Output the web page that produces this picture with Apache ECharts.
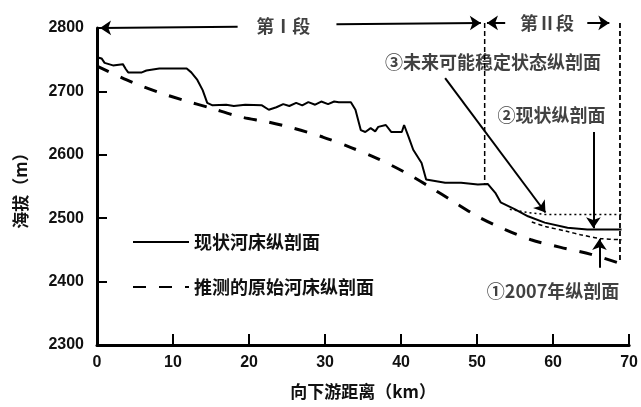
<!DOCTYPE html>
<html>
<head>
<meta charset="utf-8">
<script src="https://cdn.jsdelivr.net/npm/echarts@6/dist/echarts.min.js"></script>
<style>
html,body{margin:0;padding:0;background:#fff;}
#c{width:641px;height:407px;}
</style>
</head>
<body>
<div id="c"></div>
<script>
// ---- data (km, elevation m) ----
const currentProfile = [
  [0,2754],[0.6,2752],[1.0,2745],[2.1,2741],[3.4,2743],[3.8,2735],[4.1,2730],[5.9,2730],[6.5,2733],
  [8.2,2736],[11.8,2736],[12.4,2730],[13.2,2718],[13.9,2702],[14.5,2682],[15.2,2678],[17,2679],
  [18,2677],[19.5,2679],[21.7,2678],[22.6,2671],[23.6,2675],[24.5,2680],[25.3,2677],[26.2,2682],
  [27.0,2678],[27.8,2683],[28.7,2679],[29.5,2684],[30.4,2680],[31.2,2684],[31.8,2683],[33.4,2683],
  [34.0,2671],[34.7,2639],[35.3,2636],[36.0,2642],[36.6,2637],[37.0,2644],[38.0,2647],[38.7,2636],
  [40.1,2636],[40.4,2647],[41.0,2628],[41.6,2608],[42.7,2587],[43.3,2561],[45.8,2556],[47.9,2556],
  [50.1,2553],[51.4,2554],[52.4,2540],[53.1,2525],[55.0,2514],[56.7,2503],[58.9,2493],[61.9,2485],
  [64.5,2482],[69.0,2482]
];
const originalProfile = [
  [0,2740],[4.7,2714],[8,2699],[11.4,2686],[14.9,2674],[18.8,2660],[22.4,2652],[25.8,2642],
  [29.7,2628],[33.5,2611],[36.9,2594],[40.4,2573],[43.7,2550],[46.9,2526],[50.2,2502],[53.7,2482],
  [57.1,2466],[61,2454],[65,2443],[68.5,2430]
];
const futureStable = [[54.3,2514],[56.7,2509],[58.9,2506],[69.0,2506]];
const profile2007 = [[57.2,2494],[59,2487],[61.9,2479],[63.6,2474],[66.2,2468],[69.0,2466]];
const boundaryI_II = [[51,2808],[51,2554]];
const boundaryRight = [[68.8,2808],[68.8,2430]];

const seriesNames = ['现状河床纵剖面','推测的原始河床纵剖面'];
const xTicks = [0,10,20,30,40,50,60,70];
const yTicks = [2300,2400,2500,2600,2700,2800];
const axisNames = {x:'向下游距离（km）', y:'海拔（m）'};

// annotation texts placed in data coordinates
const annotations = [
  {text:'第Ⅰ段', at:[24.5,2803]},
  {text:'第Ⅱ段', at:[59.2,2807]},
  {text:'③未来可能稳定状态纵剖面', at:[52.1,2746]},
  {text:'②现状纵剖面', at:[59.8,2663]},
  {text:'①2007年纵剖面', at:[60,2385]}
];
// arrows: [from, to]
const arrows = [
  [[18.5,2802],[0.4,2800]],
  [[31.5,2806],[50.5,2808]],
  [[53.7,2808],[51.3,2808]],
  [[64.5,2808],[67.4,2808]],
  [[45.8,2721],[59.0,2509]],
  [[65.3,2636],[65.3,2484]],
  [[66.1,2422],[66.1,2467]]
];

const CJK = '"Noto Sans CJK SC", "Liberation Sans", sans-serif';
const chart = echarts.init(document.getElementById('c'), null, {renderer:'canvas'});

const option = {
  backgroundColor:'#fff',
  animation:false,
  color:['#000','#000'],
  grid:{left:97, right:9, top:28, bottom:62, containLabel:false},
  legend:{
    data:seriesNames,
    orient:'vertical',
    left:127, top:228,
    itemWidth:56, itemHeight:14, itemGap:27,
    itemStyle:{opacity:0},
    textStyle:{fontFamily:CJK, fontSize:18, color:'#111', fontWeight:'bold'}
  },
  xAxis:{
    type:'value', min:xTicks[0], max:xTicks[xTicks.length-1], interval:10,
    name:axisNames.x, nameLocation:'middle', nameGap:38,
    nameTextStyle:{fontFamily:CJK, fontSize:17, color:'#111', fontWeight:'bold'},
    axisLine:{lineStyle:{color:'#000', width:3}},
    axisTick:{inside:true, length:11, lineStyle:{color:'#000', width:2}},
    axisLabel:{fontFamily:'"Liberation Sans", sans-serif', fontSize:16, color:'#111', margin:10, fontWeight:'bold',
      formatter:v => String(v)},
    splitLine:{show:false}
  },
  yAxis:{
    type:'value', min:yTicks[0], max:yTicks[yTicks.length-1], interval:100,
    name:axisNames.y, nameLocation:'middle', nameGap:68, nameRotate:90,
    nameTextStyle:{fontFamily:CJK, fontSize:17, color:'#111', fontWeight:'bold'},
    axisLine:{show:true, lineStyle:{color:'#000', width:3}},
    axisTick:{show:true, inside:true, length:10, lineStyle:{color:'#000', width:2}},
    axisLabel:{fontFamily:'"Liberation Sans", sans-serif', fontSize:16, color:'#111', margin:13, fontWeight:'bold',
      formatter:v => String(v)},
    splitLine:{show:false}
  },
  series:[
    {
      name:seriesNames[0], type:'line', data:currentProfile, symbol:'none',
      itemStyle:{color:'#000'},
      lineStyle:{color:'#000', width:2}, z:5
    },
    {
      name:seriesNames[1], type:'line', data:originalProfile, symbol:'none', smooth:0.3,
      itemStyle:{color:'#000'},
      lineStyle:{color:'#000', width:3, type:[13,13]}, z:4
    },
    {
      name:'futureStable', type:'line', data:futureStable, symbol:'none',
      lineStyle:{color:'#000', width:1.5, type:[2,3]}
    },
    {
      name:'profile2007', type:'line', data:profile2007, symbol:'none', smooth:0.3,
      lineStyle:{color:'#000', width:1.5, type:[4,3]}
    },
    {
      name:'boundary1', type:'line', data:boundaryI_II, symbol:'none', clip:false,
      lineStyle:{color:'#000', width:1.5, type:[5,3]}
    },
    {
      name:'boundary2', type:'line', data:boundaryRight, symbol:'none', clip:false,
      lineStyle:{color:'#000', width:1.8, type:[5,3]}
    },
    {
      name:'arrows', type:'lines', coordinateSystem:'cartesian2d', clip:false,
      symbol:['none','arrow'], symbolSize:11,
      lineStyle:{color:'#000', width:2, opacity:1, curveness:0},
      data:arrows.map(a => ({coords:a})),
      z:6
    },
    {
      name:'labels', type:'scatter', symbolSize:0, clip:false,
      data:annotations.map(a => ({value:a.at, name:a.text})),
      label:{
        show:true, position:'inside', formatter:p => p.name,
        fontFamily:CJK, fontSize:18, color:'#111', fontWeight:'bold'
      }
    }
  ]
};
chart.setOption(option);
</script>
</body>
</html>
